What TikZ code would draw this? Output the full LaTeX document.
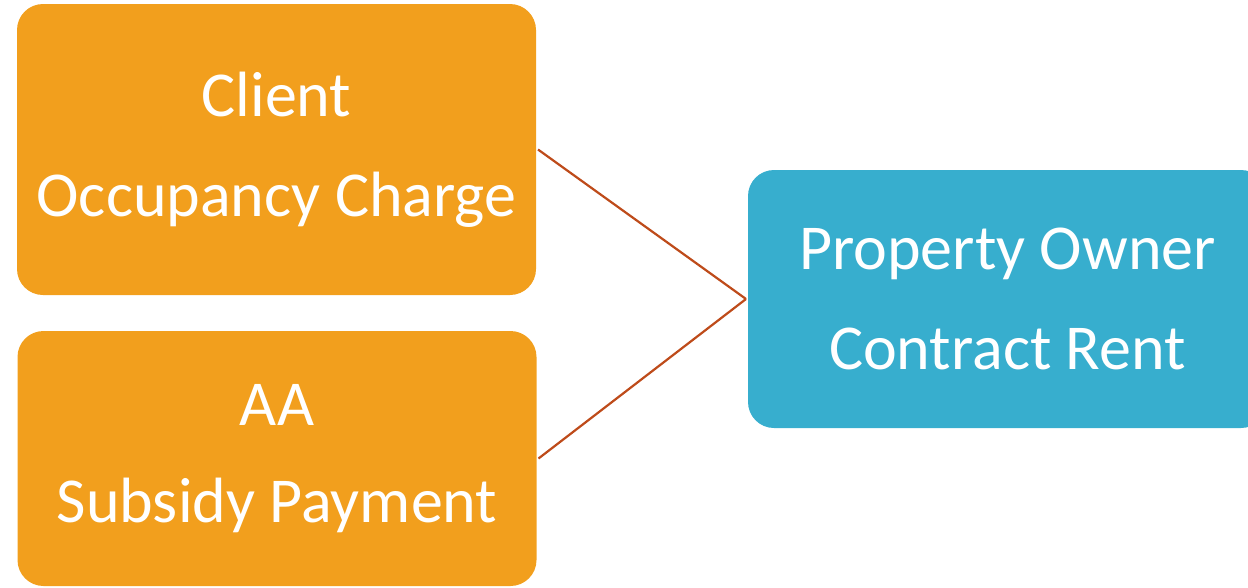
\documentclass[tikz,border=0pt]{standalone}
\usepackage{fontspec}
\setmainfont{Carlito}
\usepackage{tikz}
\usetikzlibrary{arrows.meta,positioning,calc}
\definecolor{clrPay}{RGB}{242,159,29}
\definecolor{clrRent}{RGB}{55,174,206}
\definecolor{clrLink}{RGB}{190,75,26}
\tikzset{
  payer/.style={rectangle,rounded corners=26pt,draw=none,fill=clrPay,
    text=white,font=\fontsize{64}{100}\selectfont,align=center,
    minimum width=519pt,inner sep=0pt,outer sep=2pt},
  owner/.style={payer,fill=clrRent},
  link/.style={line width=2.2pt,color=clrLink}
}
\begin{document}
\begin{tikzpicture}[x=1pt,y=-1pt]
  \useasboundingbox (0,0) rectangle (1248,587);
  \node[payer,minimum height=291pt] (client) at (276.5,149.5)
    {Client\\Occupancy Charge};
  \node[payer,minimum height=255pt] (aa) at (277,458.5)
    {\raisebox{-3pt}{AA}\\Subsidy Payment};
  \node[owner,minimum height=258pt] (po) at (1007.5,299)
    {Property Owner\\Contract Rent};
  \draw[link] (client.east) -- (po.west);
  \draw[link] (aa.east) -- (po.west);
\end{tikzpicture}
\end{document}
